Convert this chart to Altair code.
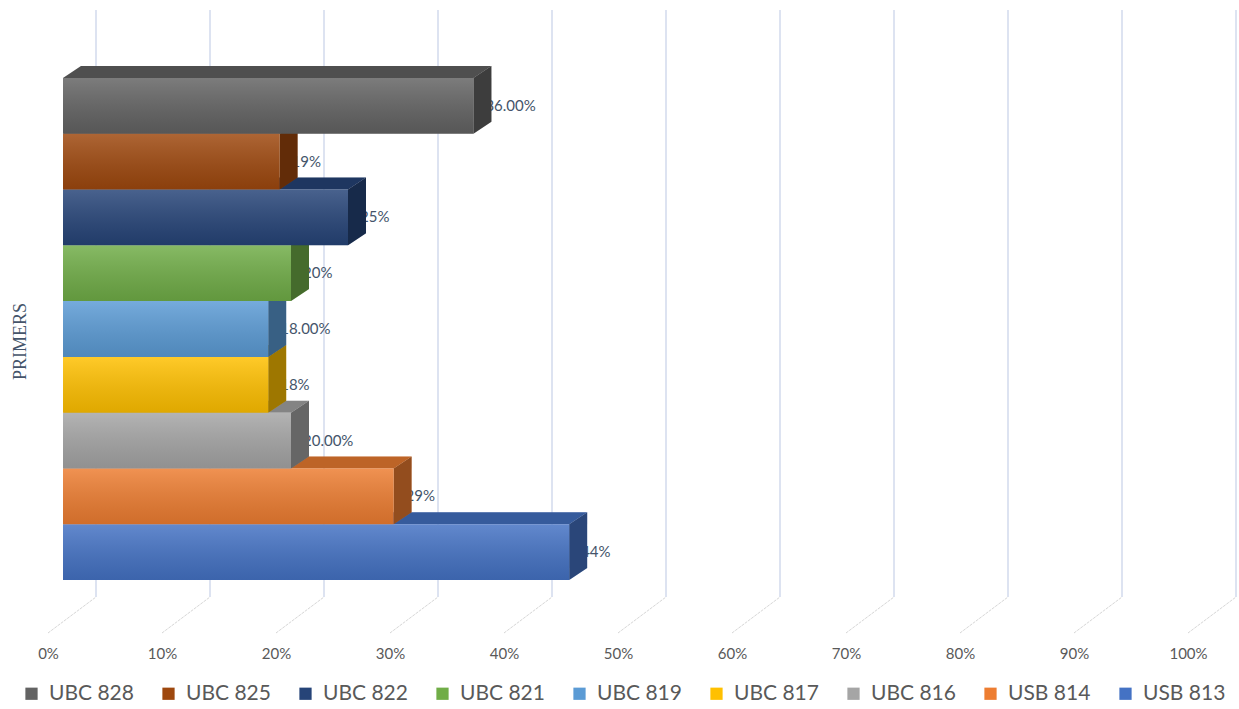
import altair as alt
import pandas as pd

# ---------------- data (bottom bar first) ----------------
primers = ["USB 813", "USB 814", "UBC 816", "UBC 817", "UBC 819",
           "UBC 821", "UBC 822", "UBC 825", "UBC 828"]
values = [44.4, 29, 20, 18, 18, 20, 25, 19, 36]
value_labels = ["44%", "29%", "20.00%", "18%", "18.00%", "20%", "25%", "19%", "36.00%"]
colors = ["#4472C4", "#ED7D31", "#A5A5A5", "#FFC000", "#5B9BD5",
          "#70AD47", "#264478", "#9E480E", "#636363"]
tick_values = [0, 10, 20, 30, 40, 50, 60, 70, 80, 90, 100]

legend_order = list(reversed(primers))
legend_colors = list(reversed(colors))

# ---------------- layout (pixel geometry of the pseudo-3D frame) ----------------
W, H = 1239, 633          # plot area
PX_PER_PCT = 11.4
X0_PX = 48                # floor-front 0% position
BAR_PX = 55.78            # one bar band height
BASE_PX = 580             # bottom of first bar

X_MIN = -X0_PX / PX_PER_PCT
X_MAX = (W - X0_PX) / PX_PER_PCT
Y_MIN = (BASE_PX - H) / BAR_PX
Y_MAX = BASE_PX / BAR_PX

BAR_X0 = 15 / PX_PER_PCT
DX = 18 / PX_PER_PCT
DY = 12 / BAR_PX
LABEL_DX = 12 / PX_PER_PCT
WALL_DX = 48 / PX_PER_PCT
WALL_Y = (BASE_PX - 597) / BAR_PX
GRID_TOP = (BASE_PX - 10) / BAR_PX

front_rows, top_rows, side_rows, label_rows = [], [], [], []
for i, (p, v, lab) in enumerate(zip(primers, values, value_labels)):
    front_rows.append(dict(primer=p, x=BAR_X0, x2=BAR_X0 + v, y=i, y2=i + 1))
    top_rows.append(dict(primer=p, y=i + 1, x=BAR_X0, x2=BAR_X0 + v))
    top_rows.append(dict(primer=p, y=i + 1 + DY, x=BAR_X0 + DX, x2=BAR_X0 + DX + v))
    side_rows.append(dict(primer=p, x=BAR_X0 + v, y=i, y2=i + 1))
    side_rows.append(dict(primer=p, x=BAR_X0 + v + DX, y=i + DY, y2=i + 1 + DY))
    label_rows.append(dict(primer=p, x=BAR_X0 + v + LABEL_DX, y=i + 0.5, text=lab))

front_df = pd.DataFrame(front_rows)
top_df = pd.DataFrame(top_rows)
side_df = pd.DataFrame(side_rows)
label_df = pd.DataFrame(label_rows)
grid_df = pd.DataFrame(dict(
    p=tick_values,
    xw=[t + WALL_DX for t in tick_values],
    yw=[WALL_Y] * len(tick_values),
    yt=[GRID_TOP] * len(tick_values),
    yf=[Y_MIN] * len(tick_values),
))

xs = alt.Scale(domain=[X_MIN, X_MAX], nice=False, zero=False)
ys = alt.Scale(domain=[Y_MIN, Y_MAX], nice=False, zero=False)
cscale = alt.Scale(domain=legend_order, range=legend_colors)

FONT = "Lato"

x_axis = alt.Axis(values=tick_values, labelExpr="datum.value + '%'", grid=False,
                  domain=False, ticks=False, labelFont=FONT, labelFontSize=15,
                  labelColor="#595959", labelPadding=13, title=None, zindex=1)
y_axis = alt.Axis(labels=False, ticks=False, domain=False, grid=False,
                  title="PRIMERS", titleFont="Liberation Serif", titleFontSize=18,
                  titleFontWeight="normal", titleColor="#44546A", titleX=20, titleY=341,
                  titleAngle=270, titleAlign="center", titleBaseline="middle", zindex=1)
legend = alt.Legend(
    title=None, orient="none", legendX=21, legendY=683, direction="horizontal",
    columns=9, symbolType="square", symbolSize=150, symbolStrokeWidth=0,
    labelFont=FONT, labelFontSize=21, labelColor="#595959", labelOffset=7,
    columnPadding=24)


def X(field, **kw):
    return alt.X(field, scale=xs, axis=x_axis, title=None, **kw)


def Y(field, **kw):
    return alt.Y(field, scale=ys, axis=y_axis, title="PRIMERS", **kw)


def C():
    return alt.Color("primer:N", scale=cscale, legend=legend)


# back-wall gridlines
wall = alt.Chart(grid_df).mark_rule(color="#C7D1E8", strokeWidth=1.2).encode(
    x=X("xw:Q"), y=Y("yw:Q"), y2="yt:Q",
)
# floor gridlines (diagonal)
floor = alt.Chart(grid_df).mark_rule(color="#D6D6D6", strokeWidth=1, strokeDash=[3, 1]).encode(
    x=X("p:Q"), x2="xw:Q", y=Y("yf:Q"), y2="yw:Q",
)

top = alt.Chart(top_df).mark_area(orient="horizontal").encode(
    y=Y("y:Q", stack=None), x=X("x:Q", stack=None), x2="x2:Q", color=C(),
)
top_shade = alt.Chart(top_df).mark_area(orient="horizontal", color="black", opacity=0.2).encode(
    y=Y("y:Q", stack=None), x=X("x:Q", stack=None), x2="x2:Q", detail="primer:N",
)

labels = alt.Chart(label_df).mark_text(align="left", baseline="middle", font=FONT,
                                       fontSize=15, color="#44546A").encode(
    x=X("x:Q"), y=Y("y:Q"), text="text:N",
)

side = alt.Chart(side_df).mark_area(orient="vertical").encode(
    x=X("x:Q", stack=None), y=Y("y:Q", stack=None), y2="y2:Q", color=C(),
)
side_shade = alt.Chart(side_df).mark_area(orient="vertical", color="black", opacity=0.38).encode(
    x=X("x:Q", stack=None), y=Y("y:Q", stack=None), y2="y2:Q", detail="primer:N",
)

front = alt.Chart(front_df).mark_rect().encode(
    x=X("x:Q"), x2="x2:Q", y=Y("y:Q"), y2="y2:Q", color=C(),
)
grad = alt.LinearGradient(
    gradient="linear", x1=0, x2=0, y1=0, y2=1,
    stops=[alt.GradientStop(color="rgba(255,255,255,0.16)", offset=0),
           alt.GradientStop(color="rgba(0,0,0,0.12)", offset=1)])
front_grad = alt.Chart(front_df).mark_rect(fill=grad).encode(
    x=X("x:Q"), x2="x2:Q", y=Y("y:Q"), y2="y2:Q",
)

chart = alt.layer(wall, floor, top, top_shade, labels, side, side_shade, front, front_grad).properties(
    width=W, height=H,
    autosize=alt.AutoSizeParams(type="none"),
    padding={"left": 0, "top": 0, "right": 0, "bottom": 709 - H},
    background="white",
).configure_view(stroke=None)

chart.save("out.html", embed_options={"renderer": "svg", "actions": False})
